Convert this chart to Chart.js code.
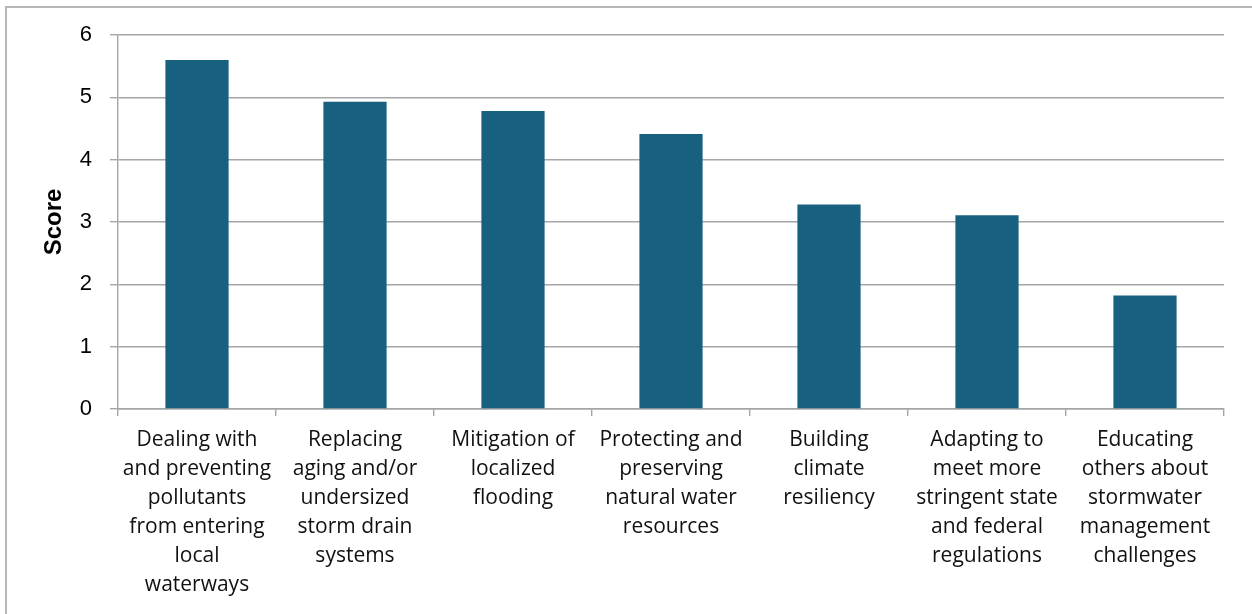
<!DOCTYPE html>
<html>
<head>
<meta charset="utf-8">
<script src="https://cdn.jsdelivr.net/npm/chart.js@4"></script>
<style>
    html, body { margin: 0; padding: 0; background: #fff; overflow: hidden; }
    #moldura {
        position: absolute; left: 5px; top: 6px; width: 1400px; height: 800px;
        border-top: 2px solid #b8b8b8; border-left: 2px solid #b8b8b8;
    }
    #caixa { position: absolute; left: 0; top: 0; width: 1252px; height: 614px; }
</style>
</head>
<body>
<div id="moldura"></div>
<div id="caixa"><canvas id="grafico"></canvas></div>
<script>
const categorias = [
    ["Dealing with", "and preventing", "pollutants", "from entering", "local", "waterways"],
    ["Replacing", "aging and/or", "undersized", "storm drain", "systems"],
    ["Mitigation of", "localized", "flooding"],
    ["Protecting and", "preserving", "natural water", "resources"],
    ["Building", "climate", "resiliency"],
    ["Adapting to", "meet more", "stringent state", "and federal", "regulations"],
    ["Educating", "others about", "stormwater", "management", "challenges"]
];
const pontuacao = [5.6, 4.93, 4.78, 4.41, 3.28, 3.11, 1.82];
const ticksY = [0, 1, 2, 3, 4, 5, 6];

const corBarra = "#176080";
const corGrade = "#a6a6a6";

new Chart(document.getElementById("grafico"), {
    type: "bar",
    data: {
        labels: categorias,
        datasets: [{
            label: "Score",
            data: pontuacao,
            backgroundColor: corBarra,
            barPercentage: 0.4,
            categoryPercentage: 1.0
        }]
    },
    options: {
        responsive: true,
        maintainAspectRatio: false,
        animation: false,
        layout: { padding: { top: 35, right: 28, left: 0, bottom: 0 } },
        plugins: {
            legend: { display: false },
            tooltip: { enabled: false }
        },
        scales: {
            x: {
                afterFit: s => { s.height = 205; },
                grid: {
                    drawOnChartArea: false,
                    drawTicks: true,
                    tickLength: 7,
                    color: corGrade,
                    lineWidth: 1.4
                },
                border: { display: true, color: corGrade, width: 1.4 },
                ticks: {
                    padding: 10,
                    maxRotation: 0,
                    autoSkip: false,
                    color: "#111",
                    font: { family: "Open Sans", size: 21, lineHeight: 1.381 }
                }
            },
            y: {
                min: 0,
                max: 6,
                afterFit: s => { s.width = 118; },
                afterBuildTicks: s => { s.ticks = ticksY.map(v => ({ value: v })); },
                grid: {
                    color: corGrade,
                    lineWidth: 1.4,
                    tickLength: 8
                },
                border: { display: true, color: corGrade, width: 1.4 },
                ticks: {
                    padding: 18,
                    color: "#000",
                    font: { family: "Liberation Sans", size: 22 }
                },
                title: {
                    display: true,
                    text: "Score",
                    color: "#000",
                    font: { family: "Liberation Sans", size: 24, weight: "bold" },
                    padding: { top: 40, bottom: 0 }
                }
            }
        }
    }
});
</script>
</body>
</html>
